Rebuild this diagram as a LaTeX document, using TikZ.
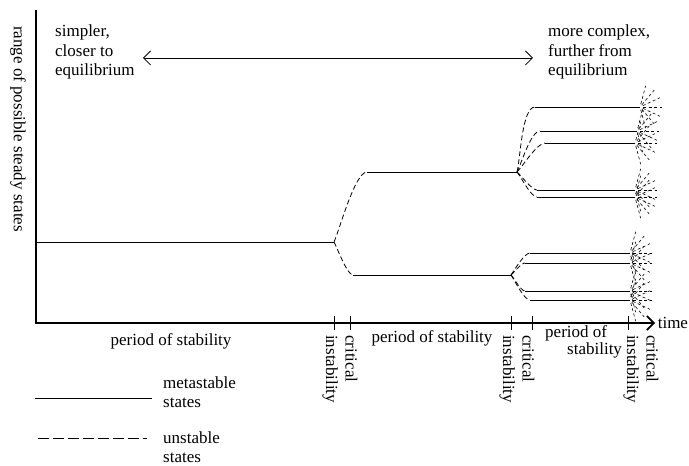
\documentclass[tikz,border=0pt]{standalone}
\usepackage{fontspec}
\setmainfont{Liberation Serif}
\usetikzlibrary{arrows.meta}
\tikzset{
  meta/.style={line width=0.8pt},
  unst/.style={line width=0.8pt,dash pattern=on 5pt off 3pt},
  fan/.style={line width=0.6pt,dash pattern=on 3pt off 2.5pt},
  lbl/.style={font=\fontsize{17}{19.5}\selectfont,inner sep=0pt},
}
\begin{document}
\begin{tikzpicture}[x=1pt,y=1pt,>={Straight Barb[length=7pt,width=14pt]}]
  \useasboundingbox (0,0) rectangle (689,466);
  % axes
  \coordinate (top) at (36,456);
  \coordinate (o) at (36,143);
  \coordinate (tend) at (655,143);
  \draw[line width=1.6pt,->] (top) -- (o) -- (tend) node[lbl,anchor=west,xshift=2pt] (time) {time};
  \foreach \x in {334,350,511,532,628}
    \draw[line width=1pt] (\x,150) -- (\x,136);
  \node[lbl,rotate=-90] (ylab) at (18,337) {range of possible steady states};
  % labels under the time axis
  \node[lbl,rotate=-90,anchor=west,align=left] (ci1) at (340,131) {critical\\instability};
  \node[lbl,rotate=-90,anchor=west,align=left] (ci2) at (517,131) {critical\\instability};
  \node[lbl,rotate=-90,anchor=west,align=left] (ci3) at (641,131) {critical\\instability};
  \node[lbl] (p1) at (171,125) {period of stability};
  \node[lbl] (p2) at (432,128) {period of stability};
  \node[lbl,anchor=west] (p3a) at (545,133) {period of};
  \node[lbl,anchor=west] (p3b) at (567,116) {stability};
  % top arrow
  \node[lbl,anchor=north west,align=left] (simp) at (55,441) {simpler,\\closer to\\equilibrium};
  \node[lbl,anchor=north west,align=left] (cplx) at (548,441) {more complex,\\further from\\equilibrium};
  \coordinate (aL) at (143,408);
  \coordinate (aR) at (533,408);
  \draw[line width=0.8pt,<->] (aL) -- (aR);
  % first period and branching
  \coordinate (b0) at (36,224);
  \coordinate (b1) at (334,224);
  \coordinate (hi) at (367,294);
  \coordinate (b2) at (517,294);
  \coordinate (lo) at (353,191);
  \coordinate (b3) at (511,191);
  \draw[meta] (b0) -- (b1);
  \draw[unst] (b1) to[out=65,in=180,looseness=0.4] (hi);
  \draw[unst] (b1) to[out=-60,in=180,looseness=0.4] (lo);
  \draw[meta] (hi) -- (b2);
  \draw[meta] (lo) -- (b3);
  % upper group
  \foreach \y/\xs/\xe/\a [count=\i] in {359/535/640/75,335/540/637/62,323/545/635/45,276/537/635/-40,269/537/635/-50}{
    \coordinate (t\i) at (\xs,\y);
    \coordinate (te\i) at (\xe,\y);
    \draw[unst] (b2) to[out=\a,in=180,looseness=0.5] (t\i);
    \draw[meta] (t\i) -- (te\i);
    \foreach \f in {-75,-50,...,75}
      \draw[fan] (te\i) ++(\f:3) -- ++(\f:19);
  }
  % lower group
  \foreach \y/\xs/\xe/\a [count=\i] in {213/530/630/55,203/525/630/40,175/525/630/-45,166/530/630/-55}{
    \coordinate (s\i) at (\xs,\y);
    \coordinate (se\i) at (\xe,\y);
    \draw[unst] (b3) to[out=\a,in=180,looseness=0.5] (s\i);
    \draw[meta] (s\i) -- (se\i);
    \foreach \f in {-75,-50,...,75}
      \draw[fan] (se\i) ++(\f:3) -- ++(\f:19);
  }
  % legend
  \coordinate (m1) at (35,68);
  \coordinate (m2) at (152,68);
  \coordinate (u1) at (38,28);
  \coordinate (u2) at (147,28);
  \draw[meta] (m1) -- (m2);
  \draw[unst,dash pattern=on 11pt off 4pt] (u1) -- (u2);
  \node[lbl,anchor=west,align=left] (lm) at (163,74) {metastable\\states};
  \node[lbl,anchor=west,align=left] (lu) at (163,19) {unstable\\states};
\end{tikzpicture}
\end{document}
